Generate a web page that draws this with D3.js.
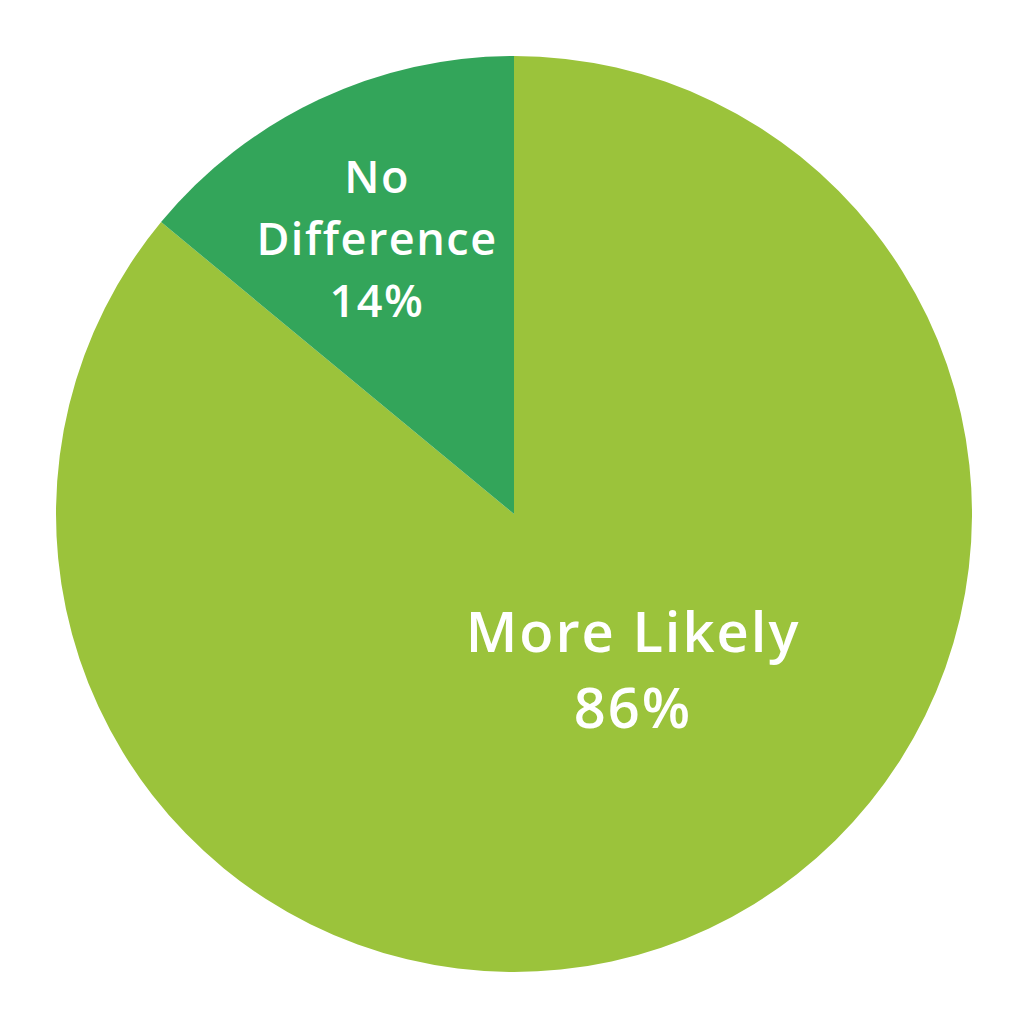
<!DOCTYPE html>
<html><head><meta charset="utf-8">
<script src="https://cdn.jsdelivr.net/npm/d3@7"></script>
<style>html,body{margin:0;padding:0;background:#fff;}</style>
</head><body>
<svg id="chart" width="1024" height="1024"></svg>
<script>
const categories = ["More Likely", "No Difference"];
const values = [86, 14];
const colors = ["#9BC33B", "#33A55A"];
const labelLines = [["More Likely", "86%"], ["No", "Difference", "14%"]];

const svg = d3.select("#chart");
const cx = 514, cy = 514, r = 458;
const g = svg.append("g").attr("transform", `translate(${cx},${cy})`);
const pie = d3.pie().sort(null).value(d => d.v);
const data = categories.map((c, i) => ({c, v: values[i], i}));
const arcs = pie(data);
const arc = d3.arc().innerRadius(0).outerRadius(r);
g.selectAll("path").data(arcs).enter().append("path")
  .attr("d", arc).attr("fill", d => colors[d.data.i]);

const labelPos = [{x: 119, y: 138, fs: 56, lh: 76, ls: 2}, {x: -137, y: -321, fs: 45, lh: 62, ls: 1.5}];
arcs.forEach(a => {
  const i = a.data.i, p = labelPos[i];
  const t = g.append("text").attr("text-anchor", "middle").attr("fill", "#fff")
    .style("font-family", "'Open Sans', sans-serif").style("font-weight", "600")
    .style("font-size", p.fs + "px").style("letter-spacing", p.ls + "px");
  labelLines[i].forEach((ln, k) => {
    t.append("tspan").attr("x", p.x).attr("y", p.y + k * p.lh).text(ln);
  });
});
</script>
</body></html>
